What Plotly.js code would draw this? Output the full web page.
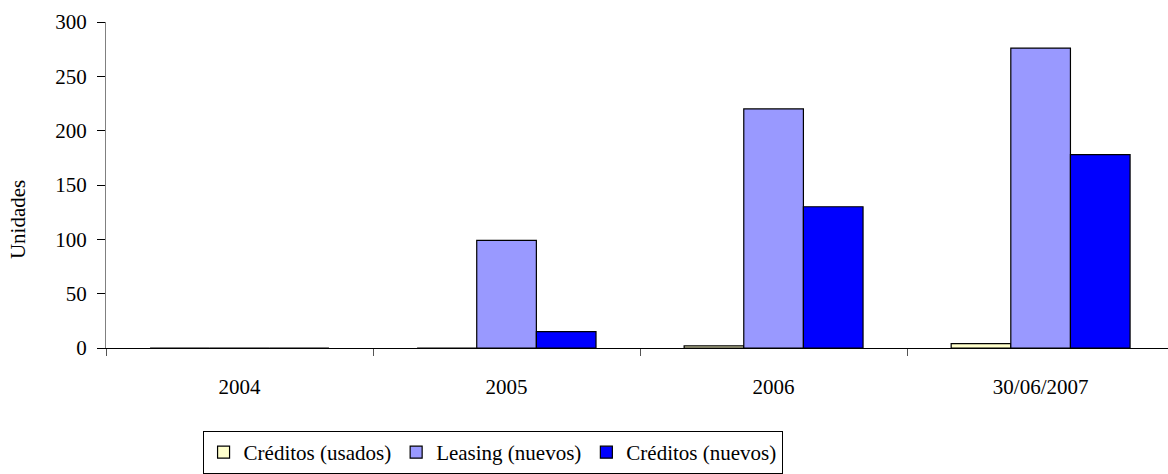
<!DOCTYPE html>
<html>
<head>
<meta charset="utf-8">
<script src="https://cdn.plot.ly/plotly-3.0.1.min.js"></script>
<style>html,body{margin:0;padding:0;background:#fff;overflow:hidden}#chart{width:1168px;height:474px}</style>
</head>
<body>
<div id="chart"></div>
<script>
const categories = ["2004", "2005", "2006", "30/06/2007"];
const creditosUsados = [0, 0, 2, 4];
const leasingNuevos = [0, 99, 220, 276];
const creditosNuevos = [0, 15, 130, 178];
const seriesNames = ["Créditos (usados)", "Leasing (nuevos)", "Créditos (nuevos)"];
const seriesColors = ["#FFFFCC", "#9999FF", "#0000FF"];
const yTicks = [0, 50, 100, 150, 200, 250, 300];
const yTitle = "Unidades";

const font = {family: "Liberation Serif, Times New Roman, serif", size: 21, color: "#000"};
const allSeries = [creditosUsados, leasingNuevos, creditosNuevos];
const traces = allSeries.map((vals, i) => ({
  type: "bar",
  x: categories,
  y: vals,
  name: seriesNames[i],
  marker: {color: seriesColors[i], line: {color: "#000", width: 1.2}},
  hoverinfo: "skip"
}));

const layout = {
  width: 1168, height: 474,
  margin: {l: 106, r: 0, t: 22, b: 123, pad: 0},
  paper_bgcolor: "#fff", plot_bgcolor: "#fff",
  font: font,
  barmode: "group",
  bargap: 0.33,
  bargroupgap: 0,
  showlegend: true,
  legend: {
    orientation: "h", x: 0.364, xanchor: "center", y: -0.255, yanchor: "top",
    bordercolor: "#000", borderwidth: 1, font: font,
    itemwidth: 30, tracegroupgap: 0, traceorder: "normal"
  },
  xaxis: {
    type: "category",
    range: [-0.5, 3.477],
    showline: true, linecolor: "#000", linewidth: 1,
    ticks: "outside", ticklen: 7, tickcolor: "#555", tickson: "boundaries",
    ticklabelstandoff: 20,
    showgrid: false, zeroline: false, tickfont: font,
    fixedrange: true
  },
  yaxis: {
    range: [0, 300],
    tickvals: yTicks,
    showline: true, linecolor: "#808080", linewidth: 1,
    ticks: "outside", ticklen: 8, tickcolor: "#000",
    ticklabelstandoff: 6,
    showgrid: false, zeroline: false, tickfont: font,
    fixedrange: true
  },
  annotations: [{
    text: yTitle, textangle: -90, showarrow: false,
    xref: "paper", yref: "paper", x: -0.083, y: 0.395,
    xanchor: "center", yanchor: "middle", font: font
  }]
};

Plotly.newPlot("chart", traces, layout, {displayModeBar: false, staticPlot: true});
</script>
</body>
</html>
